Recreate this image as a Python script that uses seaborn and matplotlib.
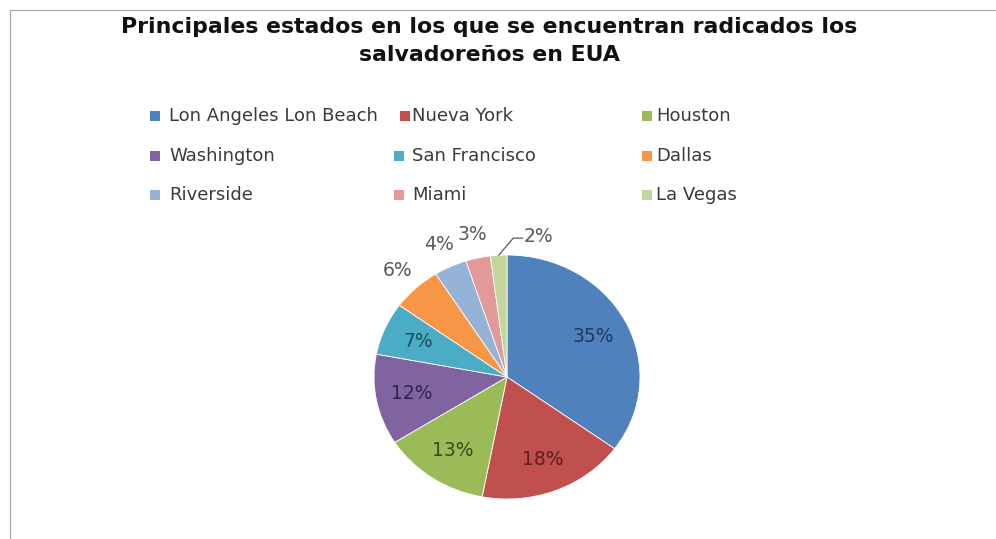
import matplotlib
matplotlib.use("Agg")
import matplotlib.pyplot as plt
import seaborn as sns
import numpy as np
from matplotlib.patches import Rectangle
from matplotlib.lines import Line2D

# ---- data ----
ciudades = ["Lon Angeles Lon Beach", "Nueva York", "Houston", "Washington",
            "San Francisco", "Dallas", "Riverside", "Miami", "La Vegas"]
porcentajes = [35, 18, 13, 12, 7, 6, 4, 3, 2]
titulo = "Principales estados en los que se encuentran radicados los\nsalvadoreños en EUA"

colores = ["#4F81BD", "#C0504D", "#9BBB59", "#8064A2", "#4BACC6",
           "#F79646", "#95B3D7", "#E19A98", "#C3D69B"]
colores_txt = ["#1F3A60", "#5E1F1E", "#3A4A1A", "#33254A", "#1B4F5E"]

sns.set_theme(style="white")
palette = sns.color_palette(colores)
plt.rcParams['font.family'] = ['DejaVu Sans']

W, H = 996, 539
fig = plt.figure(figsize=(W / 100, H / 100), dpi=100)
fig.patch.set_facecolor("white")

# frame lines
fig.add_artist(Line2D([10 / W, 1], [1 - 10 / H, 1 - 10 / H], color="#A6A6A6", lw=0.8))
fig.add_artist(Line2D([10 / W, 10 / W], [0, 1 - 10 / H], color="#A6A6A6", lw=0.8))

# title
fig.text(489 / W, 1 - 41 / H, titulo, ha="center", va="center",
         fontsize=15.8, fontweight="bold", color="#111111", linespacing=1.45)

# pie axes (slightly elliptical as in the reference)
cx, cy, rx, ry = 507, 377, 133, 122
ax = fig.add_axes([(cx - rx) / W, (H - cy - ry) / H, 2 * rx / W, 2 * ry / H])
wedges, _ = ax.pie(porcentajes, colors=palette, startangle=90, counterclock=False,
                   wedgeprops=dict(edgecolor="white", linewidth=0.6))
ax.set_aspect("auto")
ax.set_xlim(-1, 1)
ax.set_ylim(-1, 1)
ax.axis("off")

cum = np.cumsum([0] + porcentajes[:-1])
for i, (p, c0) in enumerate(zip(porcentajes, cum)):
    ang = np.deg2rad(90 - (c0 + p / 2) * 3.6)
    label = f"{p}%"
    if i < 5:
        r = 0.73
        ax.text(r * np.cos(ang), r * np.sin(ang), label, ha="center", va="center",
                fontsize=13.5, color=colores_txt[i])
    elif i < 8:
        r = 1.2
        ax.text(r * np.cos(ang), r * np.sin(ang), label, ha="center", va="center",
                fontsize=13.5, color="#595959")
    else:
        x0, y0 = np.cos(ang), np.sin(ang)
        ax.plot([x0, x0 + 0.11, x0 + 0.18], [y0, y0 + 0.14, y0 + 0.14],
                color="#595959", lw=0.9, clip_on=False)
        ax.text(x0 + 0.30, y0 + 0.15, label, ha="center", va="center",
                fontsize=13.5, color="#595959")

# legend (manual grid, as laid out in the reference)
leg_x = [[150, 400, 642], [150, 394, 642], [150, 394, 642]]
txt_x = [[169, 412, 656], [169, 412, 656], [169, 412, 656]]
leg_y = [116, 156, 195]
for k, (name, col) in enumerate(zip(ciudades, palette)):
    r, c = divmod(k, 3)
    x, y = leg_x[r][c], leg_y[r]
    fig.add_artist(Rectangle((x / W, 1 - (y + 5) / H), 10 / W, 10 / H,
                             transform=fig.transFigure, facecolor=col, edgecolor="none"))
    fig.text(txt_x[r][c] / W, 1 - y / H, name, ha="left", va="center",
             fontsize=13, color="#3A3A3A")

fig.savefig("out.png", dpi=100)
